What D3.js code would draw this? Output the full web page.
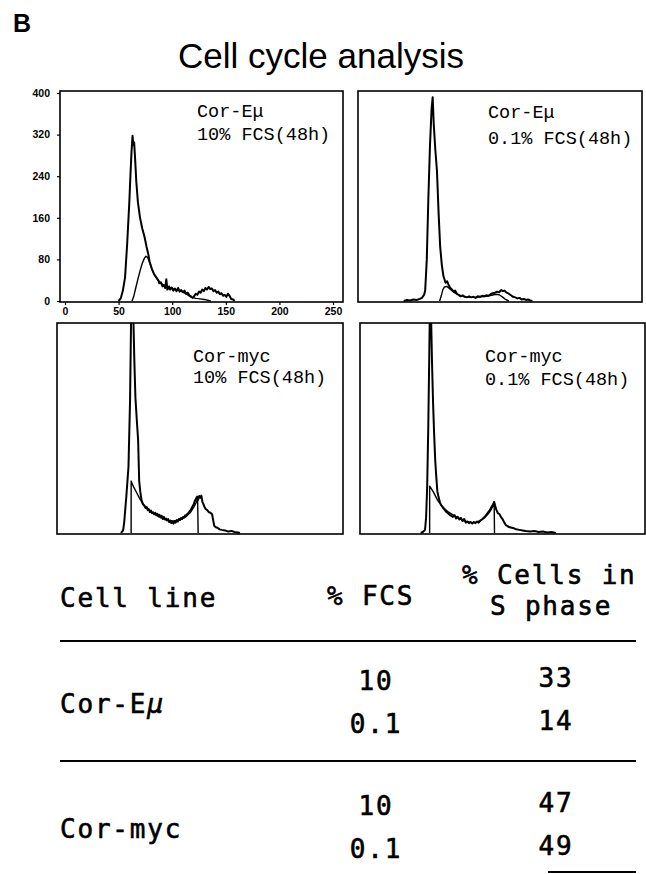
<!DOCTYPE html>
<html><head><meta charset="utf-8">
<script src="https://cdn.jsdelivr.net/npm/d3@7"></script>
<style>body{margin:0;background:#fff}</style>
</head><body>
<script>
// ---------- data ----------
const xTicks = [0, 50, 100, 150, 200, 250];
const yTicks = [0, 80, 160, 240, 320, 400];
const panelLines = [
  ["Cor-Eμ", "10% FCS(48h)"],
  ["Cor-Eμ", "0.1% FCS(48h)"],
  ["Cor-myc", "10% FCS(48h)"],
  ["Cor-myc", "0.1% FCS(48h)"]
];
// [channel, count] — DNA histogram and fitted S-phase curve for each panel
const histEmu10 = [[50,0],[52,5],[54,20],[56,45],[58,110],[60,190],[61,240],[62,285],[63,318],[63.8,300],[64.5,305],[65.5,270],[66.5,230],[68,190],[70,160],[72,140],[74,125],[76,105],[77.5,92],[79,75],[81,62],[83,52],[85,46],[87,40],[88,34],[89.5,36],[91,28],[92.5,30],[93.5,25],[94.5,42],[95.5,22],[97,28],[98,22],[99.5,26],[101,20],[102.5,24],[104,19],[105.5,25],[107,18],[108.5,21],[110,17],[111.5,20],[113,14],[114.5,16],[116,11],[117.5,9],[119,6],[120.5,9],[122,14],[123.5,12],[125,18],[126.5,16],[128,22],[129.5,19],[131,25],[132.5,22],[134,27],[135.5,23],[137,24],[138.5,19],[140,21],[141.5,16],[143,18],[144.5,13],[146,15],[147.5,10],[149,12],[150.5,8],[152,14],[153.5,10],[155,4],[157,3],[158,0]];
const fitEmu10 = [[62.5,0],[64,8],[66,25],[68,42],[70,58],[72,72],[74,82],[75.5,86],[77,84],[79,74],[81,62],[83,52],[86,42],[90,33],[95,27],[100,24],[105,21],[110,17],[114,12],[118,7],[122,5],[126,4],[130,3],[134,1],[136,0]];
const histEmu01 = [[38,0],[41,2],[44,1],[47,3],[50,2],[53,4],[55,6],[57,12],[58,20],[59.5,80],[61,200],[62.5,300],[64,370],[65,392],[66,340],[67.5,290],[69,250],[70.5,170],[72,104],[73.5,70],[75,48],[77,35],[78.5,38],[80,30],[81.5,25],[83,22],[84.5,18],[86,20],[87.5,14],[89,12],[91,9],[93,11],[95,8],[97,7],[99,9],[101,7],[103,8],[105,6],[107,9],[109,8],[111,10],[113,9],[115,11],[117,10],[119,13],[121,15],[123,16],[125,18],[127,17],[129,21],[130.5,19],[132,20],[134,16],[136,14],[138,11],[140,8],[142,7],[144,5],[146,6],[148,3],[150,4],[152,2],[154,3],[156,1],[158,0]];
const fitEmu01 = [[71.5,0],[73,10],[74.5,22],[76,27],[78,28],[80,25],[83,20],[86,15],[90,11],[95,8],[100,7],[105,7],[110,8],[115,9],[120,11],[124,13],[127,12],[130,8],[133,3],[136,0]];
const histMyc10 = [[55,0],[57,5],[58,20],[60,70],[62,127],[63.5,256],[64.5,420],[65.5,480],[66.5,420],[67.5,330],[68.5,260],[70,210],[71,179],[72,100],[73,80],[74,65],[75.5,55],[77,52],[78,48],[79,50],[80,44],[81,46],[82,40],[83,43],[84,38],[85,40],[86,36],[87,39],[88,34],[89,37],[90,32],[91,35],[92,30],[93,33],[94,27],[95,31],[96,26],[97,28],[98,24],[99,27],[100,21],[101,24],[102,19],[103,22],[104,18],[105,23],[106,20],[107,25],[108,22],[109,27],[110,25],[111,29],[112,27],[113,31],[114,30],[115,34],[116,33],[117,37],[118,38],[119,42],[120,44],[121,48],[122,52],[123,56],[124,62],[125,66],[126,70],[127,64],[128,71],[129,68],[130,72],[131,60],[132,55],[133,50],[134,46],[135.5,44],[137,40],[138.5,39],[140,36],[141,25],[142,14],[143.5,11],[145,10],[147,7],[149,6],[152,5],[155,3],[158,4],[161,2],[164,1],[166,0]];
const fitMyc10 = [[64.5,0],[64.5,100],[66,92],[68,84],[70,76],[72,68],[75,58],[78,50],[82,43],[86,37],[90,32],[95,27],[100,24],[104,23],[108,24],[112,27],[116,32],[120,40],[123,50],[125,58],[126.5,66],[127,0]];
const histMyc01 = [[52,0],[54,2],[56,6],[57,30],[58,90],[59,200],[60,350],[60.8,480],[61.6,420],[62.5,330],[63.5,250],[64.5,190],[65.5,140],[66.5,108],[67.5,80],[68.5,70],[70,58],[71.5,52],[73,48],[74.5,44],[76,40],[77.5,38],[79,35],[80.5,33],[82,31],[83.5,34],[85,28],[86.5,31],[88,26],[89.5,29],[91,23],[92.5,27],[94,20],[95.5,22],[97,19],[98.5,21],[100,18],[101.5,21],[103,19],[104.5,22],[106,20],[107.5,24],[109,26],[110.5,29],[112,32],[113.5,36],[115,40],[116.5,44],[118,50],[119.5,55],[120.5,60],[121.5,52],[122.5,45],[124,38],[125.5,36],[127,30],[128.5,26],[130,20],[131.5,15],[133,13],[135,11],[137,10],[139,9],[141,7],[144,6],[147,5],[150,4],[154,3],[158,4],[162,2],[166,3],[170,1],[174,2],[178,0]];
const fitMyc01 = [[60.3,0],[60.3,90],[62,85],[64,78],[66,70],[68,62],[71,54],[74,47],[78,40],[82,35],[86,30],[90,26],[95,22],[100,20],[104,21],[108,24],[112,30],[115,37],[118,46],[120.5,58],[120.8,0]];
const histograms = [histEmu10, histEmu01, histMyc10, histMyc01];
const fits = [fitEmu10, fitEmu01, fitMyc10, fitMyc01];

const tableHeaders = ["Cell line", "% FCS", "% Cells in", "S phase"];
const cellLines = ["Cor-E", "Cor-myc"];
const fcsValues = [["10", "0.1"], ["10", "0.1"]];
const sPhaseValues = [[33, 14], [47, 49]];

// ---------- layout ----------
const W = 646, H = 874;
const svg = d3.select("body").append("svg").attr("width", W).attr("height", H)
  .style("font-family", "'Liberation Sans', Arial, sans-serif");

svg.append("text").attr("x", 13).attr("y", 32).text("B")
  .attr("font-size", 25).attr("font-weight", "bold");
svg.append("text").attr("x", 178).attr("y", 68).text("Cell cycle analysis")
  .attr("font-size", 35);

const frames = [
  {x0: 60, x1: 343, y0: 91, y1: 302, lx: 137, ly: [26, 49], axes: true},
  {x0: 358, x1: 642, y0: 91, y1: 302, lx: 130, ly: [27, 53]},
  {x0: 57, x1: 343, y0: 323, y1: 534, lx: 136, ly: [39, 60]},
  {x0: 360, x1: 645, y0: 323, y1: 534, lx: 125, ly: [39, 62]}
];

const defs = svg.append("defs");
frames.forEach((f, i) => {
  const xs = d3.scaleLinear().domain([0, 250]).range([f.x0 + 5, f.x0 + 273]);
  const ys = d3.scaleLinear().domain([0, 400]).range([f.y1 - 1, f.y0 + 2]);
  const g = svg.append("g");
  defs.append("clipPath").attr("id", "clip" + i).append("rect")
    .attr("x", f.x0).attr("y", f.y0).attr("width", f.x1 - f.x0).attr("height", f.y1 - f.y0);
  const line = d3.line().x(d => xs(d[0])).y(d => ys(d[1]));
  const cg = g.append("g").attr("clip-path", `url(#clip${i})`);
  cg.append("path").attr("d", line(fits[i])).attr("fill", "none")
    .attr("stroke", "#000").attr("stroke-width", 1.4).attr("stroke-linejoin", "round");
  cg.append("path").attr("d", line(histograms[i])).attr("fill", "none")
    .attr("stroke", "#000").attr("stroke-width", 2).attr("stroke-linejoin", "round");
  g.append("rect").attr("x", f.x0).attr("y", f.y0).attr("width", f.x1 - f.x0).attr("height", f.y1 - f.y0)
    .attr("fill", "none").attr("stroke", "#000").attr("stroke-width", 1.6);
  const t = g.append("text").attr("font-family", "'Liberation Mono', 'Courier New', monospace")
    .attr("font-size", 18.5).attr("fill", "#000");
  panelLines[i].forEach((s, k) => {
    t.append("tspan").attr("x", f.x0 + f.lx).attr("y", f.y0 + f.ly[k]).text(s);
  });
  if (f.axes) {
    const ay = g.append("g").attr("transform", `translate(${f.x0},0)`)
      .call(d3.axisLeft(ys).tickValues(yTicks).tickSize(3).tickPadding(7).tickFormat(d3.format("d")));
    const ax = g.append("g").attr("transform", `translate(0,${f.y1})`)
      .call(d3.axisBottom(xs).tickValues(xTicks).tickSize(3).tickPadding(3).tickFormat(d3.format("d")));
    [ax, ay].forEach(a => {
      a.select(".domain").remove();
      a.selectAll("text").attr("font-size", 10.5).attr("font-weight", "bold")
        .attr("font-family", "'Liberation Sans', Arial, sans-serif").attr("fill", "#000");
      a.selectAll("line").attr("stroke", "#000").attr("stroke-width", 1.2);
    });
  }
});

// ---------- table ----------
const tf = "'DejaVu Sans Mono', monospace";
const tbl = svg.append("g").attr("font-family", tf).attr("font-size", 26)
  .attr("letter-spacing", 1.8).attr("fill", "#000")
  .attr("stroke", "#000").attr("stroke-width", 0.6);
const headPos = [[60, 607], [327, 605], [462, 584], [490, 615]];
tbl.selectAll("text.h").data(tableHeaders).join("text").attr("class", "h")
  .attr("x", (d, i) => headPos[i][0]).attr("y", (d, i) => headPos[i][1]).text(d => d);

const ruleY = [641, 761];
svg.selectAll("line.rule").data(ruleY).join("line").attr("class", "rule")
  .attr("x1", 60).attr("x2", 636).attr("y1", d => d).attr("y2", d => d)
  .attr("stroke", "#000").attr("stroke-width", 2);
svg.append("line").attr("x1", 548).attr("x2", 636).attr("y1", 872).attr("y2", 872)
  .attr("stroke", "#000").attr("stroke-width", 2);

const groupY = d3.scalePoint().domain(cellLines).range([713, 838]);
const subY = d3.scalePoint().domain([0, 1]).range([-23, 20]);
const colX = {fcs: 376, s: 556};
cellLines.forEach((c, gi) => {
  const gy = groupY(c);
  const lt = tbl.append("text").attr("x", 60).attr("y", gy).text(c);
  if (gi === 0) lt.append("tspan").attr("font-style", "italic").text("μ");
  fcsValues[gi].forEach((v, k) => {
    tbl.append("text").attr("x", colX.fcs).attr("y", gy + subY(k)).attr("text-anchor", "middle").text(v);
  });
  sPhaseValues[gi].forEach((v, k) => {
    tbl.append("text").attr("x", colX.s).attr("y", gy + subY(k) - 3).attr("text-anchor", "middle").text(v);
  });
});
</script>
</body></html>
